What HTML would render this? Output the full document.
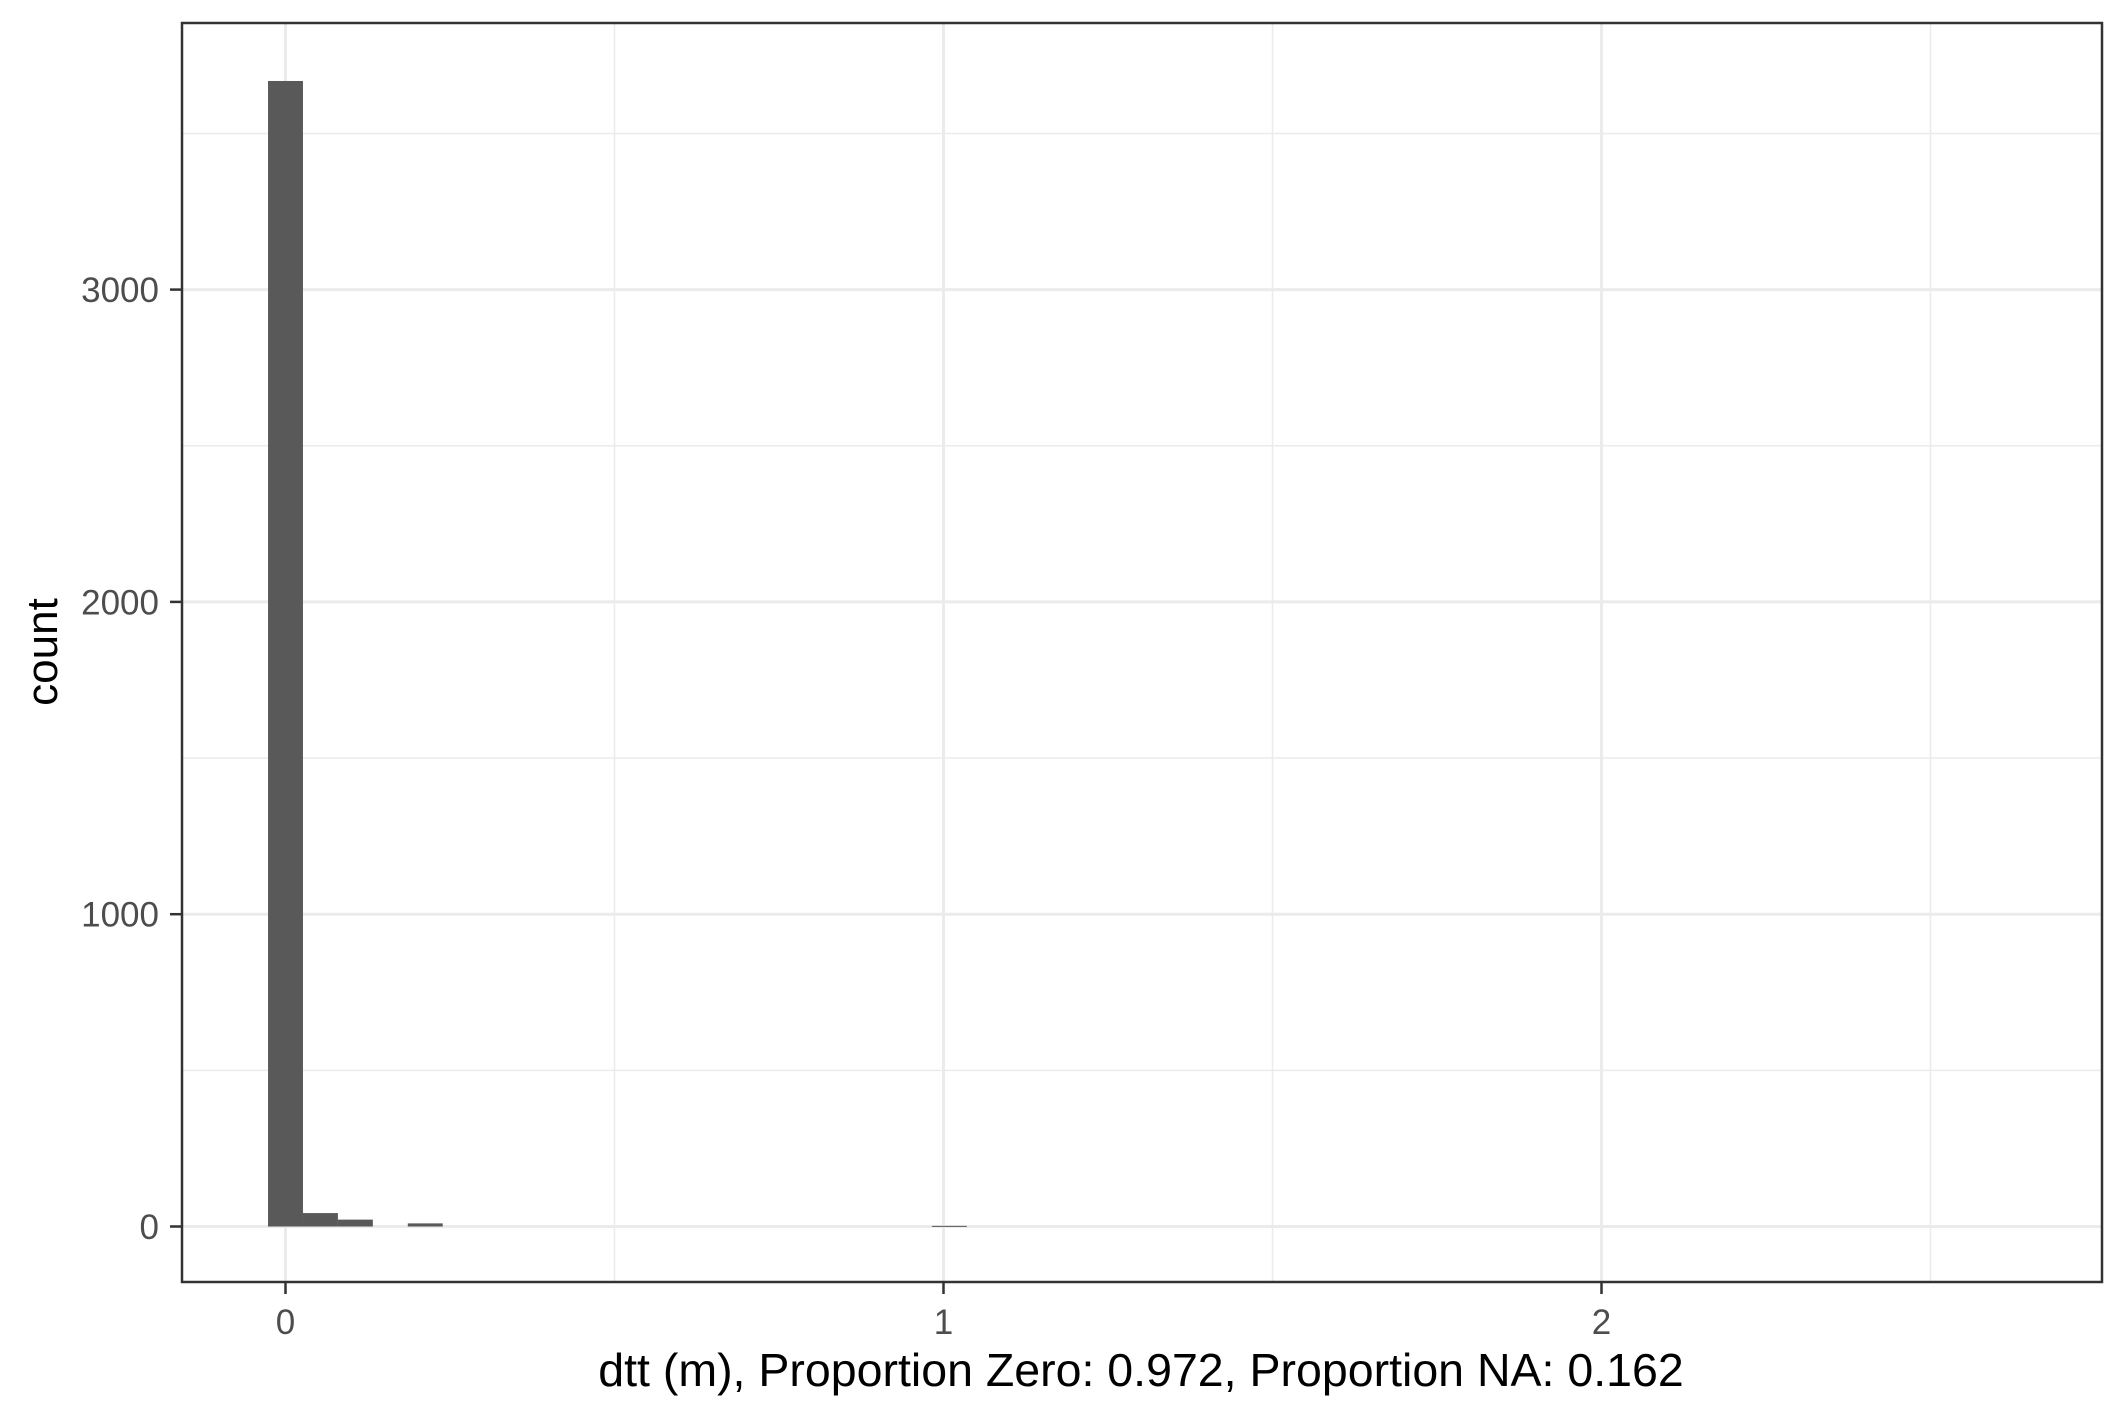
<!DOCTYPE html>
<html><head><meta charset="utf-8"><style>
html,body{margin:0;padding:0;background:#fff;}
svg{display:block;font-family:"Liberation Sans",Arial,sans-serif;}
</style></head><body>
<svg id="chart" width="2125" height="1417" viewBox="0 0 2125 1417">
<rect x="0" y="0" width="2125" height="1417" fill="#fff"/>
<g id="grid"></g>
<g id="bars"></g>
<rect x="182" y="23" width="1920" height="1259" fill="none" stroke="#333" stroke-width="2.5"/>
<g id="axes"></g>
<text x="57" y="652" font-size="44" fill="#000" text-anchor="middle" transform="rotate(-90 57 652)">count</text>
<text x="1141" y="1386" font-size="46.5" fill="#000" text-anchor="middle">dtt (m), Proportion Zero: 0.972, Proportion NA: 0.162</text>
</svg>
<script>
const binCenters = [0, 0.0531, 0.1062, 0.2124, 1.0089];
const binCounts = [3668, 43, 22, 10, 2];
const binWidth = 0.0531;
const xTicks = [0, 1, 2];
const xTickLabels = ["0", "1", "2"];
const xMinor = [0.5, 1.5, 2.5];
const yTicks = [0, 1000, 2000, 3000];
const yTickLabels = ["0", "1000", "2000", "3000"];
const yMinor = [500, 1500, 2500, 3500];

const NS = "http://www.w3.org/2000/svg";
const px0 = 182, px1 = 2102, py0 = 23, py1 = 1282;
function xs(v){ return 285.5 + v * 658; }
function ys(v){ return 1226.5 - v * 0.3123; }
function mk(tag, attrs, parent){
  const e = document.createElementNS(NS, tag);
  for (const k in attrs) e.setAttribute(k, attrs[k]);
  parent.appendChild(e);
  return e;
}
const grid = document.getElementById('grid');
const bars = document.getElementById('bars');
const axes = document.getElementById('axes');
yMinor.forEach(v => {
  const l = mk('line', {x1: px0, x2: px1, y1: ys(v), y2: ys(v), stroke: '#ebebeb', 'stroke-width': 1.5}, grid);
  
  
});
xMinor.forEach(v => {
  const l = mk('line', {x1: xs(v), x2: xs(v), y1: py0, y2: py1, stroke: '#ebebeb', 'stroke-width': 1.5}, grid);
  
  
});
yTicks.forEach(v => {
  const l = mk('line', {x1: px0, x2: px1, y1: ys(v), y2: ys(v), stroke: '#ebebeb', 'stroke-width': 3}, grid);
  
  
});
xTicks.forEach(v => {
  const l = mk('line', {x1: xs(v), x2: xs(v), y1: py0, y2: py1, stroke: '#ebebeb', 'stroke-width': 3}, grid);
  
  
});
binCenters.forEach((c, i) => {
  const xl = xs(c - binWidth/2), xr = xs(c + binWidth/2);
  const yt = ys(binCounts[i]), yb = ys(0);
  const r = mk('rect', {x: xl, y: yt, width: xr - xl, height: Math.max(yb - yt, 1), fill: '#595959'}, bars);
  
  
});
yTicks.forEach((v, i) => {
  const t = mk('line', {x1: 170, x2: 182, y1: ys(v), y2: ys(v), stroke: '#333', 'stroke-width': 2.5}, axes);
  
  
  const tx = mk('text', {x: 159, y: ys(v) + 12.5, 'font-size': 35, fill: '#4d4d4d', 'text-anchor': 'end'}, axes);
  tx.textContent = yTickLabels[i];
  
  
});
xTicks.forEach((v, i) => {
  const t = mk('line', {x1: xs(v), x2: xs(v), y1: 1282, y2: 1294, stroke: '#333', 'stroke-width': 2.5}, axes);
  
  
  const tx = mk('text', {x: xs(v), y: 1334, 'font-size': 35, fill: '#4d4d4d', 'text-anchor': 'middle'}, axes);
  tx.textContent = xTickLabels[i];
  
  
});
</script>
</body></html>
